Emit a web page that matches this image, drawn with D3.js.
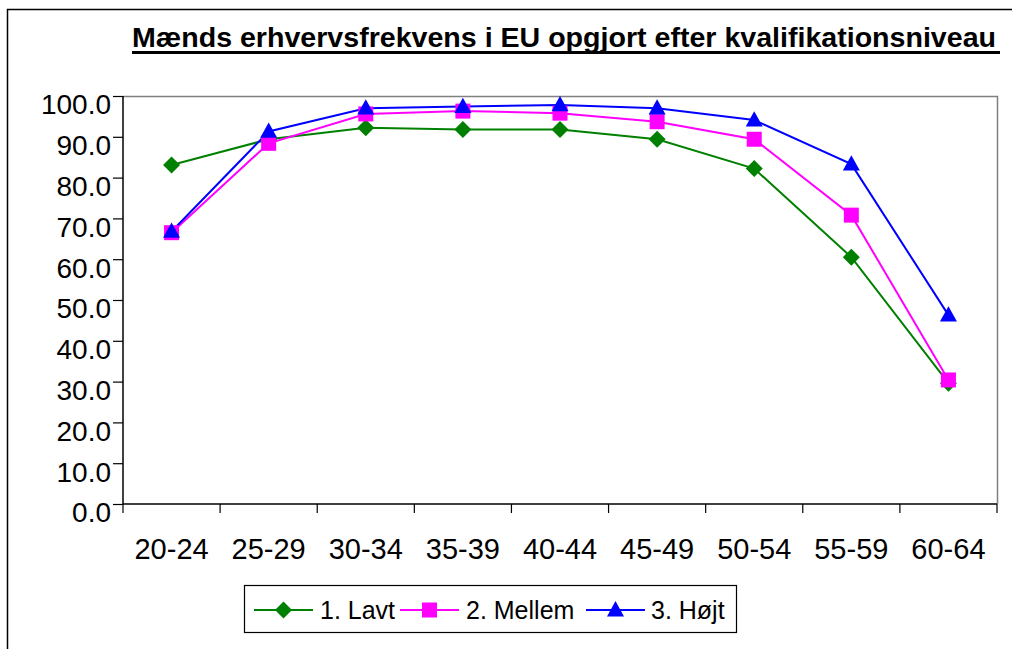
<!DOCTYPE html>
<html><head><meta charset="utf-8">
<script src="https://cdn.jsdelivr.net/npm/d3@7"></script>
<style>
html,body{margin:0;padding:0;background:#fff;}
text{font-family:"Liberation Sans",Arial,sans-serif;}
</style></head>
<body>
<svg id="c" width="1012" height="649"></svg>
<script>
const categories = ["20-24","25-29","30-34","35-39","40-44","45-49","50-54","55-59","60-64"];
const lavt   = [83.1, 89.4, 92.2, 91.8, 91.8, 89.4, 82.2, 60.5, 29.6];
const mellem = [66.5, 88.4, 95.6, 96.3, 95.8, 93.7, 89.4, 70.8, 30.4];
const hojt   = [66.8, 91.3, 97.0, 97.4, 97.8, 97.0, 94.1, 83.3, 46.3];
const seriesNames = ["1. Lavt","2. Mellem","3. Højt"];
const yTicks = [0,10,20,30,40,50,60,70,80,90,100];
const titleText = "Mænds erhvervsfrekvens i EU opgjort efter kvalifikationsniveau";

const colors = ["#008000","#ff00ff","#0000ff"];
const seriesData = [lavt, mellem, hojt];

// marker shapes
const diamond = s => `M0,${-s}L${s},0L0,${s}L${-s},0Z`;
const square = s => `M${-s},${-s}H${s}V${s}H${-s}Z`;
const triangle = s => `M0,${-s*1.05}L${s},${s*0.75}H${-s}Z`;
const markers = [() => diamond(8.5), () => square(7.5), () => triangle(8.5)];

const svg = d3.select("#c");
const L = 123, R = 997, T = 96, B = 504;

// outer frame
svg.append("path").attr("d","M7.5,649 L7.5,9.5 L1012,9.5").attr("fill","none").attr("stroke","#000").attr("stroke-width",1.5);

// title
svg.append("text").attr("x",132).attr("y",47).attr("font-size",28).attr("font-weight","bold")
  .attr("textLength",864).attr("lengthAdjust","spacingAndGlyphs").text(titleText);
svg.append("line").attr("x1",132).attr("x2",1000).attr("y1",52.5).attr("y2",52.5).attr("stroke","#000").attr("stroke-width",3);

const x = d3.scaleBand().domain(categories).range([L,R]).padding(0);
const y = d3.scaleLinear().domain([0,100]).range([B,T]);

// plot border top/right
svg.append("path").attr("d",`M${L},${T+0.5} L${R+0.5},${T+0.5} L${R+0.5},${B}`).attr("fill","none").attr("stroke","#808080").attr("stroke-width",1.5);

// y axis
const ya = svg.append("g").attr("transform",`translate(${L},0)`)
  .call(d3.axisLeft(y).tickValues(yTicks).tickFormat(d3.format(".1f")).tickSize(10).tickPadding(2));
ya.select(".domain").attr("stroke","#000").attr("stroke-width",1.5).attr("d",`M0,${T}V${B}`);
ya.selectAll(".tick line").attr("stroke","#000").attr("stroke-width",1.2);
ya.selectAll("text").attr("font-size",28).attr("fill","#000").attr("dy","0.64em")
  .attr("font-family","Liberation Sans, Arial, sans-serif");

// x axis with boundary ticks
const xa = svg.append("g").attr("transform",`translate(0,${B})`);
xa.append("line").attr("x1",L).attr("x2",R).attr("stroke","#000").attr("stroke-width",1.5);
const bounds = categories.map(c => x(c)).concat([x(categories[categories.length-1]) + x.bandwidth()]);
xa.selectAll(".bt").data(bounds).join("line").attr("x1",d=>d).attr("x2",d=>d).attr("y1",0).attr("y2",9)
  .attr("stroke","#000").attr("stroke-width",1.2);
xa.selectAll(".lbl").data(categories).join("text").attr("x",d=>x(d)+x.bandwidth()/2).attr("y",55)
  .attr("text-anchor","middle").attr("font-size",29).attr("fill","#000").text(d=>d);

// lines & markers
const line = d3.line().x((d,i)=>x(categories[i])+x.bandwidth()/2).y(d=>y(d));
seriesData.forEach((vals,si)=>{
  svg.append("path").datum(vals).attr("d",line).attr("fill","none").attr("stroke",colors[si]).attr("stroke-width",2);
});
seriesData.forEach((vals,si)=>{
  svg.selectAll(".m"+si).data(vals).join("path")
    .attr("transform",(d,i)=>`translate(${x(categories[i])+x.bandwidth()/2},${y(d)})`)
    .attr("d",markers[si]()).attr("fill",colors[si]);
});

// legend
const lg = svg.append("g");
lg.append("rect").attr("x",244.5).attr("y",585.5).attr("width",492).attr("height",47).attr("fill","#fff").attr("stroke","#000").attr("stroke-width",1.2);
const legX = [254, 400, 586];
const textX = [320, 466, 651];
seriesNames.forEach((n,si)=>{
  lg.append("line").attr("x1",legX[si]).attr("x2",legX[si]+59).attr("y1",610).attr("y2",610).attr("stroke",colors[si]).attr("stroke-width",2);
  lg.append("path").attr("transform",`translate(${legX[si]+29.5},610)`).attr("d",markers[si]()).attr("fill",colors[si]);
  lg.append("text").attr("x",textX[si]).attr("y",619).attr("font-size",25).attr("fill","#000").text(n);
});
</script>
</body></html>
